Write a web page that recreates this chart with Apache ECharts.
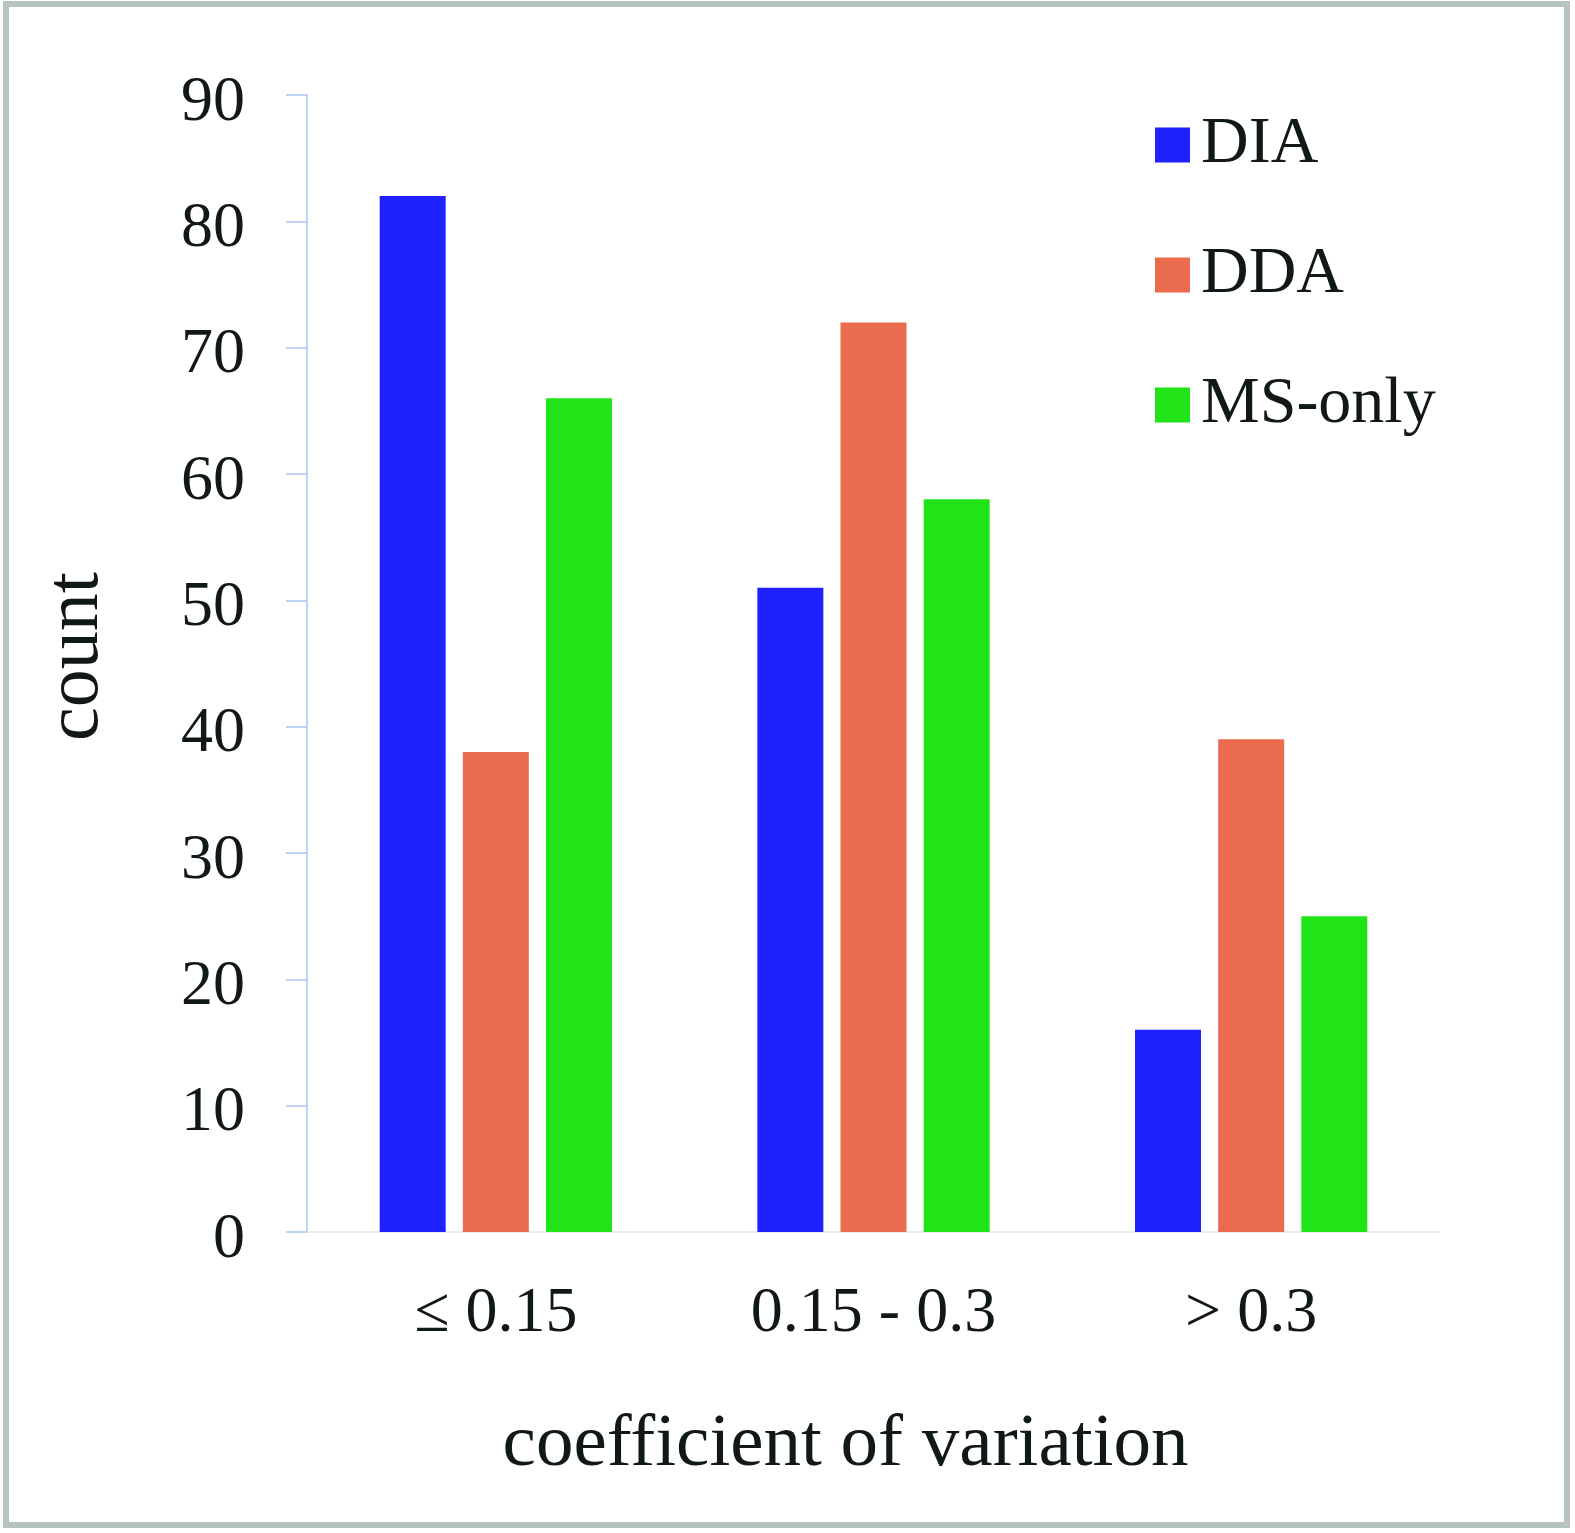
<!DOCTYPE html>
<html>
<head>
<meta charset="utf-8">
<script src="https://cdn.jsdelivr.net/npm/echarts@6/dist/echarts.min.js"></script>
<style>
html,body{margin:0;padding:0;background:#fff;}
#chart{width:1575px;height:1533px;}
</style>
</head>
<body>
<div id="chart"></div>
<script>
const categories = ['≤ 0.15', '0.15 - 0.3', '> 0.3'];
const seriesNames = ['DIA', 'DDA', 'MS-only'];
const diaValues = [82, 51, 16];
const ddaValues = [38, 72, 39];
const msOnlyValues = [66, 58, 25];
const yTicks = [0, 90, 10]; // min, max, interval

const FONT = '"Liberation Serif", "DejaVu Serif", serif';
const TXT = '#111917';
const colors = ['#1f22ff', '#eb6b4f', '#20e418'];

const chart = echarts.init(document.getElementById('chart'), null, {renderer: 'canvas'});
chart.setOption({
  animation: false,
  backgroundColor: '#ffffff',
  graphic: [{
    type: 'rect',
    shape: {x: 6, y: 4, width: 1561, height: 1521},
    style: {fill: 'none', stroke: '#b6c4c0', lineWidth: 6},
    silent: true
  }],
  legend: {
    orient: 'vertical',
    left: 1150,
    top: 107,
    itemWidth: 35,
    itemHeight: 35,
    itemGap: 64,
    icon: 'rect',
    data: seriesNames,
    textStyle: {fontFamily: FONT, fontSize: 66, color: TXT, lineHeight: 66, padding: [0, 0, 0, 6]}
  },
  grid: {left: 307, right: 135, top: 95, bottom: 301, containLabel: false},
  xAxis: {
    type: 'category',
    data: categories,
    name: 'coefficient of variation',
    nameLocation: 'middle',
    nameGap: 176,
    nameTextStyle: {fontFamily: FONT, fontSize: 75, color: TXT, padding: [0, 56, 0, 0]},
    axisLine: {show: true, lineStyle: {color: '#e2e6e6', width: 1.5}},
    axisTick: {show: false},
    axisLabel: {fontFamily: FONT, fontSize: 64, color: TXT, margin: 50},
    splitLine: {show: false}
  },
  yAxis: {
    type: 'value',
    min: yTicks[0],
    max: yTicks[1],
    interval: yTicks[2],
    name: 'count',
    nameLocation: 'middle',
    nameRotate: 90,
    nameGap: 192,
    nameTextStyle: {fontFamily: FONT, fontSize: 76, color: TXT, padding: [0, 0, 0, 14]},
    axisLine: {show: true, lineStyle: {color: '#a8c4f4', width: 1.5}},
    axisTick: {show: true, length: 21, lineStyle: {color: '#a8c4f4', width: 1.5}},
    axisLabel: {fontFamily: FONT, fontSize: 64, color: TXT, margin: 62, verticalAlign: 'top', lineHeight: 16},
    splitLine: {show: false}
  },
  series: [
    {name: seriesNames[0], type: 'bar', data: diaValues, barWidth: 66, barGap: '26%', itemStyle: {color: colors[0]}},
    {name: seriesNames[1], type: 'bar', data: ddaValues, barWidth: 66, barGap: '26%', itemStyle: {color: colors[1]}},
    {name: seriesNames[2], type: 'bar', data: msOnlyValues, barWidth: 66, barGap: '26%', itemStyle: {color: colors[2]}}
  ]
});
</script>
</body>
</html>
